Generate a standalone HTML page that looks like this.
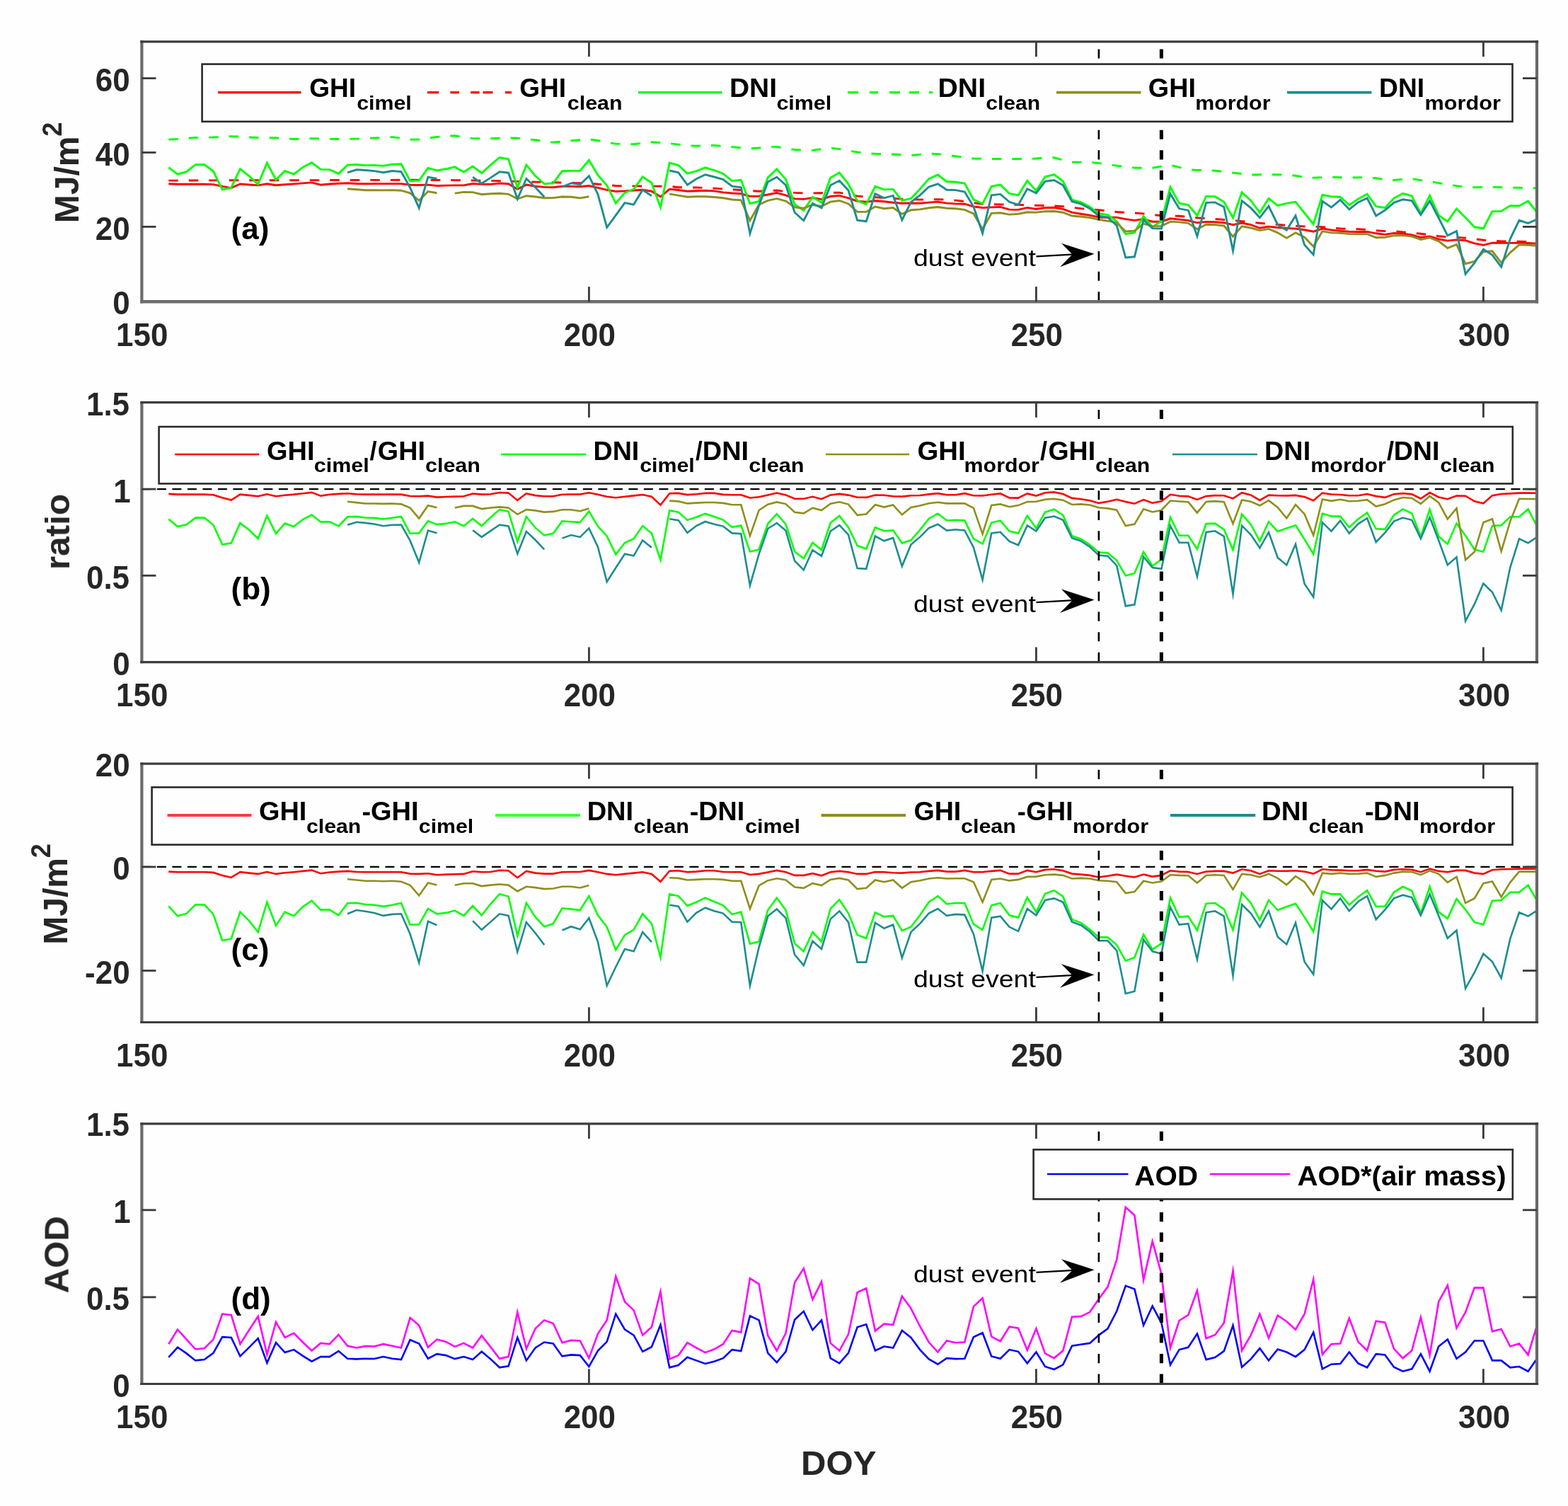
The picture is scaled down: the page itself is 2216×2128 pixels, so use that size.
<!DOCTYPE html>
<html lang="en">
<head>
<meta charset="utf-8">
<title>Irradiance, ratio, difference and AOD versus DOY</title>
<style>
html,body{margin:0;padding:0;background:#fefefe;}
body{width:2216px;height:2128px;overflow:hidden;}
svg{display:block;font-family:'Liberation Sans', Arial, Helvetica, sans-serif;}
</style>
</head>
<body>
<svg xmlns="http://www.w3.org/2000/svg" width="2216" height="2128" viewBox="0 0 2216 2128">
<defs><filter id="soft" color-interpolation-filters="sRGB" x="0" y="0" width="2216" height="2128" filterUnits="userSpaceOnUse"><feGaussianBlur stdDeviation="0.7"/></filter></defs>
<rect x="0" y="0" width="2216" height="2128" fill="#fefefe"/>
<g filter="url(#soft)">
<polyline points="238.3,259.8 251.0,260.3 263.6,260.2 276.2,260.2 288.9,260.2 301.5,260.6 314.2,263.4 326.8,265.6 339.4,260.0 352.1,261.0 364.7,261.9 377.4,259.8 390.0,261.8 402.6,260.7 415.3,259.9 427.9,258.9 440.6,257.9 453.2,261.2 465.8,260.0 478.5,259.3 491.1,258.8 503.8,259.5 516.4,259.7 529.0,259.6 541.7,259.6 554.3,259.6 567.0,259.6 579.6,261.2 592.2,261.5 604.9,261.1 617.5,262.5 630.2,262.1 642.8,261.9 655.4,261.9 668.1,259.5 680.7,260.4 693.4,260.4 706.0,259.0 718.6,259.8 731.3,267.3 743.9,261.0 756.6,263.3 769.2,264.4 781.8,264.7 794.5,263.3 807.1,263.4 819.8,263.7 832.4,262.5 845.0,265.4 857.7,268.4 870.3,270.5 883.0,269.9 895.6,269.0 908.2,268.2 920.9,270.2 933.5,278.0 946.2,267.3 958.8,268.5 971.4,270.2 984.1,269.7 996.7,269.3 1009.4,269.9 1022.0,271.9 1034.6,273.0 1047.3,273.8 1059.9,277.4 1072.6,277.3 1085.2,275.0 1097.8,272.5 1110.5,275.9 1123.1,280.9 1135.8,281.4 1148.4,279.5 1161.0,281.6 1173.7,277.5 1186.3,276.4 1199.0,279.8 1211.6,284.2 1224.2,285.2 1236.9,283.7 1249.5,284.7 1262.2,286.3 1274.8,287.2 1287.4,287.0 1300.1,287.3 1312.7,286.1 1325.4,285.1 1338.0,287.1 1350.6,287.9 1363.3,288.2 1375.9,291.9 1388.6,293.5 1401.2,292.9 1413.8,292.4 1426.5,296.1 1439.1,296.4 1451.8,293.4 1464.4,295.5 1477.0,293.5 1489.7,293.3 1502.3,295.4 1515.0,300.1 1527.6,302.2 1540.2,304.1 1552.9,307.0 1565.5,307.2 1578.2,307.1 1590.8,309.6 1603.4,311.4 1616.1,309.5 1628.7,313.2 1641.4,313.3 1654.0,308.8 1666.6,310.1 1679.3,311.5 1691.9,314.8 1704.6,313.4 1717.2,313.8 1729.8,314.7 1742.5,317.7 1755.1,315.0 1767.8,317.7 1780.4,322.3 1793.0,320.1 1805.7,321.5 1818.3,322.5 1831.0,323.1 1843.6,324.8 1856.2,327.2 1868.9,323.0 1881.5,325.0 1894.2,326.4 1906.8,327.3 1919.4,327.6 1932.1,327.4 1944.7,329.8 1957.4,331.4 1970.0,329.5 1982.6,330.3 1995.3,332.0 2007.9,335.6 2020.6,333.9 2033.2,338.0 2045.8,340.1 2058.5,338.9 2071.1,339.7 2083.8,343.8 2096.4,346.3 2109.0,343.2 2121.7,343.3 2134.3,343.4 2147.0,343.1 2159.6,343.5 2172.2,344.3" fill="none" stroke="#ff0000" stroke-width="2.9" stroke-linejoin="miter" stroke-miterlimit="8" stroke-linecap="butt"/>
<polyline points="238.3,255.1 251.0,255.1 263.6,255.0 276.2,255.0 288.9,254.9 301.5,254.9 314.2,254.9 326.8,254.8 339.4,254.8 352.1,254.8 364.7,254.8 377.4,254.7 390.0,254.7 402.6,254.7 415.3,254.7 427.9,254.6 440.6,254.6 453.2,254.6 465.8,254.5 478.5,254.5 491.1,254.5 503.8,254.5 516.4,254.4 529.0,254.4 541.7,254.4 554.3,254.4 567.0,254.3 579.6,254.3 592.2,254.4 604.9,254.4 617.5,254.5 630.2,254.5 642.8,254.6 655.4,254.8 668.1,255.0 680.7,255.2 693.4,255.4 706.0,255.6 718.6,256.0 731.3,256.4 743.9,256.7 756.6,257.1 769.2,257.5 781.8,257.8 794.5,258.1 807.1,258.4 819.8,258.7 832.4,259.0 845.0,260.2 857.7,261.3 870.3,262.5 883.0,262.8 895.6,262.9 908.2,263.0 920.9,263.1 933.5,263.1 946.2,263.2 958.8,264.7 971.4,265.0 984.1,265.0 996.7,265.5 1009.4,266.1 1022.0,266.9 1034.6,267.7 1047.3,268.6 1059.9,269.5 1072.6,270.2 1085.2,269.6 1097.8,269.0 1110.5,270.7 1123.1,272.4 1135.8,272.9 1148.4,272.9 1161.0,272.7 1173.7,272.3 1186.3,272.1 1199.0,274.6 1211.6,277.1 1224.2,278.1 1236.9,278.7 1249.5,279.5 1262.2,280.3 1274.8,281.1 1287.4,281.6 1300.1,282.1 1312.7,281.9 1325.4,281.6 1338.0,282.3 1350.6,283.1 1363.3,284.7 1375.9,286.7 1388.6,288.2 1401.2,288.6 1413.8,288.9 1426.5,289.2 1439.1,289.4 1451.8,289.9 1464.4,290.3 1477.0,290.6 1489.7,290.9 1502.3,291.6 1515.0,293.2 1527.6,294.6 1540.2,295.6 1552.9,296.6 1565.5,298.0 1578.2,299.5 1590.8,300.4 1603.4,301.0 1616.1,301.9 1628.7,303.4 1641.4,304.7 1654.0,305.0 1666.6,305.3 1679.3,306.5 1691.9,307.7 1704.6,308.6 1717.2,309.5 1729.8,310.5 1742.5,311.5 1755.1,312.6 1767.8,313.9 1780.4,315.2 1793.0,316.3 1805.7,317.4 1818.3,318.4 1831.0,319.3 1843.6,320.0 1856.2,320.3 1868.9,320.6 1881.5,321.8 1894.2,323.0 1906.8,323.5 1919.4,323.8 1932.1,324.5 1944.7,325.7 1957.4,326.6 1970.0,326.7 1982.6,327.9 1995.3,329.1 2007.9,330.3 2020.6,332.0 2033.2,333.7 2045.8,334.8 2058.5,335.4 2071.1,336.2 2083.8,337.7 2096.4,339.2 2109.0,340.0 2121.7,340.9 2134.3,341.2 2147.0,341.2 2159.6,341.6 2172.2,342.4" fill="none" stroke="#ff0000" stroke-width="2.9" stroke-linejoin="miter" stroke-miterlimit="8" stroke-linecap="butt" stroke-dasharray="13.5 15"/>
<polyline points="238.3,236.7 251.0,246.2 263.6,242.6 276.2,232.7 288.9,232.5 301.5,242.0 314.2,267.9 326.8,265.2 339.4,238.7 352.1,248.6 364.7,260.5 377.4,230.1 390.0,254.1 402.6,241.4 415.3,246.2 427.9,236.4 440.6,229.8 453.2,239.4 465.8,239.6 478.5,245.4 491.1,233.1 503.8,232.5 516.4,233.6 529.0,233.5 541.7,234.4 554.3,232.1 567.0,231.7 579.6,255.7 592.2,255.2 604.9,237.4 617.5,241.0 630.2,238.8 642.8,235.9 655.4,243.0 668.1,235.0 680.7,244.5 693.4,233.1 706.0,222.5 718.6,224.8 731.3,265.0 743.9,233.0 756.6,248.6 769.2,259.8 781.8,258.8 794.5,241.8 807.1,241.4 819.8,241.4 832.4,226.3 845.0,247.4 857.7,262.0 870.3,287.1 883.0,272.4 895.6,267.3 908.2,249.7 920.9,258.2 933.5,293.2 946.2,230.1 958.8,233.5 971.4,245.1 984.1,241.8 996.7,236.8 1009.4,240.5 1022.0,245.4 1034.6,255.6 1047.3,254.3 1059.9,287.7 1072.6,284.5 1085.2,250.9 1097.8,238.8 1110.5,253.4 1123.1,288.8 1135.8,297.5 1148.4,278.4 1161.0,286.2 1173.7,251.3 1186.3,243.8 1199.0,260.0 1211.6,283.7 1224.2,288.6 1236.9,263.4 1249.5,267.9 1262.2,267.4 1274.8,283.4 1287.4,280.4 1300.1,267.3 1312.7,252.6 1325.4,247.0 1338.0,256.5 1350.6,257.2 1363.3,259.1 1375.9,282.0 1388.6,287.9 1401.2,263.4 1413.8,261.1 1426.5,273.4 1439.1,275.8 1451.8,255.4 1464.4,269.6 1477.0,249.8 1489.7,246.5 1502.3,256.0 1515.0,282.3 1527.6,285.6 1540.2,292.3 1552.9,301.8 1565.5,303.6 1578.2,312.9 1590.8,330.7 1603.4,328.7 1616.1,305.6 1628.7,320.7 1641.4,312.5 1654.0,264.4 1666.6,287.2 1679.3,289.6 1691.9,304.5 1704.6,277.4 1717.2,277.8 1729.8,285.3 1742.5,307.7 1755.1,271.7 1767.8,283.5 1780.4,300.4 1793.0,280.4 1805.7,290.4 1818.3,287.3 1831.0,285.2 1843.6,301.0 1856.2,316.7 1868.9,275.3 1881.5,277.7 1894.2,278.2 1906.8,289.6 1919.4,281.2 1932.1,274.2 1944.7,291.6 1957.4,293.7 1970.0,280.1 1982.6,273.3 1995.3,276.9 2007.9,301.6 2020.6,276.3 2033.2,304.2 2045.8,313.0 2058.5,294.9 2071.1,307.5 2083.8,320.8 2096.4,322.8 2109.0,298.6 2121.7,298.4 2134.3,290.6 2147.0,290.9 2159.6,284.0 2172.2,300.0" fill="none" stroke="#00ff00" stroke-width="2.9" stroke-linejoin="miter" stroke-miterlimit="8" stroke-linecap="butt"/>
<polyline points="238.3,197.1 251.0,196.5 263.6,195.4 276.2,194.5 288.9,194.2 301.5,194.0 314.2,193.4 326.8,192.6 339.4,193.1 352.1,194.0 364.7,194.5 377.4,194.5 390.0,194.8 402.6,195.8 415.3,196.5 427.9,196.1 440.6,195.6 453.2,196.0 465.8,196.4 478.5,196.5 491.1,196.4 503.8,196.1 516.4,195.6 529.0,195.0 541.7,194.3 554.3,193.6 567.0,195.2 579.6,197.3 592.2,197.0 604.9,195.1 617.5,193.5 630.2,192.3 642.8,191.8 655.4,193.7 668.1,195.6 680.7,195.6 693.4,195.6 706.0,195.3 718.6,194.9 731.3,195.3 743.9,196.5 756.6,197.8 769.2,199.6 781.8,201.3 794.5,200.0 807.1,198.7 819.8,197.7 832.4,196.9 845.0,198.5 857.7,201.3 870.3,203.1 883.0,203.6 895.6,203.7 908.2,202.2 920.9,200.8 933.5,201.6 946.2,202.6 958.8,204.1 971.4,205.7 984.1,206.2 996.7,205.5 1009.4,205.4 1022.0,206.5 1034.6,207.6 1047.3,208.8 1059.9,209.9 1072.6,209.0 1085.2,207.3 1097.8,207.5 1110.5,209.7 1123.1,211.5 1135.8,212.0 1148.4,212.4 1161.0,210.7 1173.7,209.0 1186.3,210.6 1199.0,213.0 1211.6,214.9 1224.2,216.4 1236.9,217.4 1249.5,217.6 1262.2,218.0 1274.8,218.8 1287.4,219.6 1300.1,218.4 1312.7,217.0 1325.4,217.6 1338.0,219.0 1350.6,220.7 1363.3,222.6 1375.9,224.1 1388.6,224.3 1401.2,224.5 1413.8,224.5 1426.5,224.5 1439.1,224.5 1451.8,224.5 1464.4,224.0 1477.0,222.7 1489.7,222.8 1502.3,226.1 1515.0,229.1 1527.6,229.1 1540.2,229.1 1552.9,230.6 1565.5,232.4 1578.2,234.1 1590.8,235.8 1603.4,237.1 1616.1,237.2 1628.7,237.2 1641.4,235.1 1654.0,233.1 1666.6,236.4 1679.3,239.8 1691.9,240.4 1704.6,240.4 1717.2,241.2 1729.8,242.6 1742.5,244.1 1755.1,245.6 1767.8,247.0 1780.4,246.8 1793.0,246.7 1805.7,246.8 1818.3,246.9 1831.0,248.2 1843.6,250.2 1856.2,251.2 1868.9,250.6 1881.5,250.2 1894.2,250.7 1906.8,251.2 1919.4,250.8 1932.1,250.5 1944.7,251.8 1957.4,253.8 1970.0,254.5 1982.6,253.3 1995.3,252.7 2007.9,254.6 2020.6,256.4 2033.2,258.6 2045.8,260.8 2058.5,262.6 2071.1,264.3 2083.8,264.8 2096.4,264.5 2109.0,264.4 2121.7,264.7 2134.3,265.0 2147.0,265.3 2159.6,265.5 2172.2,265.9" fill="none" stroke="#00ff00" stroke-width="2.9" stroke-linejoin="miter" stroke-miterlimit="8" stroke-linecap="butt" stroke-dasharray="13.5 15"/>
<polyline points="491.1,266.8 503.8,267.8 516.4,268.7 529.0,268.7 541.7,268.9 554.3,268.6 567.0,269.2 579.6,272.8 592.2,283.3 604.9,270.6 617.5,272.8" fill="none" stroke="#8f8f1c" stroke-width="2.9" stroke-linejoin="miter" stroke-miterlimit="8" stroke-linecap="butt"/>
<polyline points="642.8,273.1 655.4,271.4 668.1,271.6 680.7,274.7 693.4,273.7 706.0,273.2 718.6,274.3 731.3,281.0 743.9,276.7 756.6,278.0 769.2,279.8 781.8,279.6 794.5,278.0 807.1,278.3 819.8,279.9 832.4,277.7" fill="none" stroke="#8f8f1c" stroke-width="2.9" stroke-linejoin="miter" stroke-miterlimit="8" stroke-linecap="butt"/>
<polyline points="946.2,274.1 958.8,276.1 971.4,278.2 984.1,277.8 996.7,277.8 1009.4,278.5 1022.0,279.7 1034.6,282.0 1047.3,282.8 1059.9,311.7 1072.6,289.2 1085.2,283.4 1097.8,280.7 1110.5,284.0 1123.1,292.8 1135.8,294.2 1148.4,289.5 1161.0,291.4 1173.7,285.1 1186.3,283.5 1199.0,287.9 1211.6,299.4 1224.2,299.4 1236.9,292.0 1249.5,294.7 1262.2,293.6 1274.8,302.4 1287.4,296.8 1300.1,295.9 1312.7,293.7 1325.4,292.5 1338.0,294.2 1350.6,294.8 1363.3,296.4 1375.9,301.9 1388.6,323.8 1401.2,301.4 1413.8,300.8 1426.5,303.1 1439.1,302.2 1451.8,299.8 1464.4,300.1 1477.0,298.7 1489.7,298.5 1502.3,300.2 1515.0,305.0 1527.6,306.0 1540.2,307.5 1552.9,310.4 1565.5,312.2 1578.2,314.6 1590.8,327.0 1603.4,326.2 1616.1,316.1 1628.7,319.6 1641.4,319.4 1654.0,313.1 1666.6,313.9 1679.3,315.3 1691.9,323.8 1704.6,317.2 1717.2,317.6 1729.8,319.0 1742.5,334.3 1755.1,319.8 1767.8,322.0 1780.4,325.6 1793.0,323.4 1805.7,328.8 1818.3,336.4 1831.0,328.8 1843.6,335.2 1856.2,348.3 1868.9,326.8 1881.5,328.9 1894.2,329.2 1906.8,330.6 1919.4,330.7 1932.1,330.7 1944.7,335.7 1957.4,335.2 1970.0,332.9 1982.6,332.6 1995.3,334.1 2007.9,338.4 2020.6,335.8 2033.2,340.8 2045.8,350.5 2058.5,345.4 2071.1,372.7 2083.8,369.5 2096.4,355.8 2109.0,354.8 2121.7,371.3 2134.3,356.8 2147.0,345.9 2159.6,346.3 2172.2,347.2" fill="none" stroke="#8f8f1c" stroke-width="2.9" stroke-linejoin="miter" stroke-miterlimit="8" stroke-linecap="butt"/>
<polyline points="491.1,243.9 503.8,239.8 516.4,240.5 529.0,241.6 541.7,243.7 554.3,241.5 567.0,242.6 579.6,265.2 592.2,293.9 604.9,250.2 617.5,252.4" fill="none" stroke="#1c8d90" stroke-width="2.9" stroke-linejoin="miter" stroke-miterlimit="8" stroke-linecap="butt"/>
<polyline points="668.1,250.1 680.7,259.2 693.4,251.1 706.0,242.7 718.6,244.2 731.3,281.2 743.9,252.5 756.6,264.7 769.2,278.3" fill="none" stroke="#1c8d90" stroke-width="2.9" stroke-linejoin="miter" stroke-miterlimit="8" stroke-linecap="butt"/>
<polyline points="794.5,264.1 807.1,258.9 819.8,260.8 832.4,248.6 845.0,274.5 857.7,321.3 870.3,304.2 883.0,286.6 895.6,289.1 908.2,268.2 920.9,276.7" fill="none" stroke="#1c8d90" stroke-width="2.9" stroke-linejoin="miter" stroke-miterlimit="8" stroke-linecap="butt"/>
<polyline points="946.2,241.0 958.8,243.9 971.4,261.3 984.1,252.7 996.7,246.8 1009.4,250.0 1022.0,253.5 1034.6,263.2 1047.3,264.8 1059.9,330.0 1072.6,290.2 1085.2,257.1 1097.8,250.2 1110.5,261.5 1123.1,300.2 1135.8,311.7 1148.4,287.4 1161.0,293.8 1173.7,261.7 1186.3,255.2 1199.0,269.0 1211.6,311.2 1224.2,312.8 1236.9,273.8 1249.5,279.8 1262.2,276.4 1274.8,310.9 1287.4,285.6 1300.1,275.8 1312.7,264.0 1325.4,259.8 1338.0,268.3 1350.6,268.6 1363.3,271.0 1375.9,292.0 1388.6,329.7 1401.2,275.8 1413.8,274.4 1426.5,285.3 1439.1,289.5 1451.8,266.8 1464.4,272.9 1477.0,256.4 1489.7,254.6 1502.3,261.7 1515.0,284.7 1527.6,288.0 1540.2,294.6 1552.9,305.1 1565.5,307.1 1578.2,318.6 1590.8,364.0 1603.4,362.8 1616.1,310.8 1628.7,322.6 1641.4,322.9 1654.0,273.9 1666.6,294.8 1679.3,297.2 1691.9,333.9 1704.6,286.4 1717.2,285.9 1729.8,292.5 1742.5,354.2 1755.1,283.6 1767.8,293.9 1780.4,307.6 1793.0,291.3 1805.7,317.5 1818.3,325.2 1831.0,304.7 1843.6,346.1 1856.2,359.9 1868.9,284.3 1881.5,292.9 1894.2,282.5 1906.8,295.8 1919.4,285.9 1932.1,279.9 1944.7,304.9 1957.4,297.0 1970.0,286.3 1982.6,281.8 1995.3,283.6 2007.9,303.5 2020.6,283.9 2033.2,308.0 2045.8,332.9 2058.5,326.7 2071.1,387.2 2083.8,371.6 2096.4,352.3 2109.0,360.3 2121.7,377.2 2134.3,337.6 2147.0,311.3 2159.6,315.4 2172.2,310.0" fill="none" stroke="#1c8d90" stroke-width="2.9" stroke-linejoin="miter" stroke-miterlimit="8" stroke-linecap="butt"/>
<line x1="1552.88" y1="426.30" x2="1552.88" y2="58.90" stroke="#000" stroke-width="2.6" stroke-dasharray="13.2 15.37" stroke-dashoffset="27.7"/>
<line x1="1641.36" y1="426.30" x2="1641.36" y2="58.90" stroke="#000" stroke-width="5.0" stroke-dasharray="13.2 15.37" stroke-dashoffset="27.7"/>
<line x1="200.40" y1="57.30" x2="200.40" y2="428.50" stroke="#6a6a6a" stroke-width="4.2" stroke-linecap="butt"/>
<line x1="2172.00" y1="57.30" x2="2172.00" y2="428.50" stroke="#686868" stroke-width="4.2" stroke-linecap="butt"/>
<line x1="198.30" y1="58.90" x2="2174.10" y2="58.90" stroke="#3c3c3c" stroke-width="3.2" stroke-linecap="butt"/>
<line x1="198.30" y1="426.30" x2="2174.10" y2="426.30" stroke="#6c6c6c" stroke-width="4.4" stroke-linecap="butt"/>
<line x1="832.40" y1="426.30" x2="832.40" y2="405.10" stroke="#3a3a3a" stroke-width="2.8" stroke-linecap="butt"/>
<line x1="832.40" y1="58.90" x2="832.40" y2="80.10" stroke="#3a3a3a" stroke-width="2.8" stroke-linecap="butt"/>
<line x1="1464.40" y1="426.30" x2="1464.40" y2="405.10" stroke="#3a3a3a" stroke-width="2.8" stroke-linecap="butt"/>
<line x1="1464.40" y1="58.90" x2="1464.40" y2="80.10" stroke="#3a3a3a" stroke-width="2.8" stroke-linecap="butt"/>
<line x1="2096.40" y1="426.30" x2="2096.40" y2="405.10" stroke="#3a3a3a" stroke-width="2.8" stroke-linecap="butt"/>
<line x1="2096.40" y1="58.90" x2="2096.40" y2="80.10" stroke="#3a3a3a" stroke-width="2.8" stroke-linecap="butt"/>
<line x1="200.40" y1="320.40" x2="220.40" y2="320.40" stroke="#3a3a3a" stroke-width="2.8" stroke-linecap="butt"/>
<line x1="2172.00" y1="320.40" x2="2152.00" y2="320.40" stroke="#3a3a3a" stroke-width="2.8" stroke-linecap="butt"/>
<line x1="200.40" y1="215.50" x2="220.40" y2="215.50" stroke="#3a3a3a" stroke-width="2.8" stroke-linecap="butt"/>
<line x1="2172.00" y1="215.50" x2="2152.00" y2="215.50" stroke="#3a3a3a" stroke-width="2.8" stroke-linecap="butt"/>
<line x1="200.40" y1="110.60" x2="220.40" y2="110.60" stroke="#3a3a3a" stroke-width="2.8" stroke-linecap="butt"/>
<line x1="2172.00" y1="110.60" x2="2152.00" y2="110.60" stroke="#3a3a3a" stroke-width="2.8" stroke-linecap="butt"/>
<rect x="285.60" y="90.60" width="1851.90" height="81.20" fill="#fefefe" stroke="#2a2a2a" stroke-width="2.6"/>
<line x1="308.00" y1="130.60" x2="425.50" y2="130.60" stroke="#ff0000" stroke-width="3.4" stroke-linecap="butt"/>
<line x1="604.00" y1="130.60" x2="723.00" y2="130.60" stroke="#ff0000" stroke-width="3.4" stroke-linecap="butt" stroke-dasharray="16.2 16.2 12.5 16.2 12.5 5 13.8 17.5 9.3 0" stroke-dashoffset="0"/>
<line x1="902.00" y1="130.60" x2="1020.50" y2="130.60" stroke="#00ff00" stroke-width="3.4" stroke-linecap="butt"/>
<line x1="1198.00" y1="130.60" x2="1318.00" y2="130.60" stroke="#00ff00" stroke-width="3.4" stroke-linecap="butt" stroke-dasharray="15 16 12 16 15 13 14 14 5 0" stroke-dashoffset="0"/>
<line x1="1493.00" y1="130.60" x2="1612.50" y2="130.60" stroke="#8f8f1c" stroke-width="3.6" stroke-linecap="butt"/>
<line x1="1819.00" y1="130.60" x2="1938.50" y2="130.60" stroke="#1c8d90" stroke-width="3.6" stroke-linecap="butt"/>
<text x="437.28" y="137.00" font-size="36.3" font-weight="bold" fill="#000" textLength="65.79" lengthAdjust="spacingAndGlyphs">GHI</text>
<text x="504.22" y="154.60" font-size="27.0" font-weight="bold" fill="#000" textLength="77.54" lengthAdjust="spacingAndGlyphs">cimel</text>
<text x="734.28" y="137.00" font-size="36.3" font-weight="bold" fill="#000" textLength="65.79" lengthAdjust="spacingAndGlyphs">GHI</text>
<text x="801.82" y="154.60" font-size="27.0" font-weight="bold" fill="#000" textLength="77.67" lengthAdjust="spacingAndGlyphs">clean</text>
<text x="1030.99" y="137.00" font-size="36.3" font-weight="bold" fill="#000" textLength="67.02" lengthAdjust="spacingAndGlyphs">DNI</text>
<text x="1097.41" y="154.60" font-size="27.0" font-weight="bold" fill="#000" textLength="77.75" lengthAdjust="spacingAndGlyphs">cimel</text>
<text x="1325.58" y="137.00" font-size="36.3" font-weight="bold" fill="#000" textLength="67.46" lengthAdjust="spacingAndGlyphs">DNI</text>
<text x="1393.23" y="154.60" font-size="27.0" font-weight="bold" fill="#000" textLength="76.84" lengthAdjust="spacingAndGlyphs">clean</text>
<text x="1622.85" y="137.00" font-size="36.3" font-weight="bold" fill="#000" textLength="67.07" lengthAdjust="spacingAndGlyphs">GHI</text>
<text x="1689.20" y="154.60" font-size="27.0" font-weight="bold" fill="#000" textLength="106.26" lengthAdjust="spacingAndGlyphs">mordor</text>
<text x="1949.11" y="137.00" font-size="36.3" font-weight="bold" fill="#000" textLength="63.98" lengthAdjust="spacingAndGlyphs">DNI</text>
<text x="2013.58" y="154.60" font-size="27.0" font-weight="bold" fill="#000" textLength="107.28" lengthAdjust="spacingAndGlyphs">mordor</text>
<polyline points="238.3,697.9 251.0,698.6 263.6,698.6 276.2,698.6 288.9,698.6 301.5,699.3 314.2,703.3 326.8,706.5 339.4,698.6 352.1,699.9 364.7,701.3 377.4,698.3 390.0,701.3 402.6,699.7 415.3,698.6 427.9,697.2 440.6,695.9 453.2,700.6 465.8,698.8 478.5,697.9 491.1,697.2 503.8,698.3 516.4,698.6 529.0,698.6 541.7,698.6 554.3,698.6 567.0,698.6 579.6,701.0 592.2,701.3 604.9,700.6 617.5,702.6 630.2,702.0 642.8,701.6 655.4,701.3 668.1,697.5 680.7,698.6 693.4,698.3 706.0,696.0 718.6,696.6 731.3,706.9 743.9,697.3 756.6,700.1 769.2,701.2 781.8,701.2 794.5,698.7 807.1,698.5 819.8,698.5 832.4,696.3 845.0,698.8 857.7,701.7 870.3,703.2 883.0,701.8 895.6,700.4 908.2,699.0 920.9,701.8 933.5,713.6 946.2,697.3 958.8,696.9 971.4,699.1 984.1,698.3 996.7,696.9 1009.4,696.9 1022.0,698.9 1034.6,699.2 1047.3,699.2 1059.9,703.5 1072.6,702.3 1085.2,699.6 1097.8,696.6 1110.5,699.4 1123.1,704.8 1135.8,704.8 1148.4,701.8 1161.0,705.2 1173.7,699.4 1186.3,697.9 1199.0,699.6 1211.6,702.8 1224.2,702.9 1236.9,699.5 1249.5,699.8 1262.2,701.2 1274.8,701.6 1287.4,700.3 1300.1,700.0 1312.7,698.4 1325.4,697.1 1338.0,699.2 1350.6,699.3 1363.3,697.2 1375.9,700.3 1388.6,700.4 1401.2,698.7 1413.8,697.4 1426.5,703.5 1439.1,703.6 1451.8,697.4 1464.4,700.6 1477.0,696.3 1489.7,695.4 1502.3,698.0 1515.0,703.9 1527.6,705.3 1540.2,707.2 1552.9,710.9 1565.5,708.8 1578.2,705.8 1590.8,709.1 1603.4,711.6 1616.1,706.1 1628.7,710.7 1641.4,708.4 1654.0,698.8 1666.6,700.8 1679.3,701.4 1691.9,705.9 1704.6,701.0 1717.2,700.1 1729.8,700.2 1742.5,704.4 1755.1,696.2 1767.8,699.4 1780.4,706.9 1793.0,699.6 1805.7,700.3 1818.3,700.4 1831.0,699.9 1843.6,702.1 1856.2,707.2 1868.9,696.6 1881.5,698.5 1894.2,699.0 1906.8,700.2 1919.4,700.2 1932.1,698.0 1944.7,701.1 1957.4,702.9 1970.0,698.2 1982.6,697.1 1995.3,698.3 2007.9,704.5 2020.6,696.1 2033.2,702.5 2045.8,705.2 2058.5,700.6 2071.1,700.7 2083.8,708.3 2096.4,711.3 2109.0,700.1 2121.7,698.0 2134.3,697.4 2147.0,696.6 2159.6,696.6 2172.2,696.7" fill="none" stroke="#ff0000" stroke-width="2.6" stroke-linejoin="miter" stroke-miterlimit="8" stroke-linecap="butt"/>
<polyline points="238.3,733.5 251.0,744.1 263.6,741.3 276.2,731.6 288.9,731.6 301.5,741.8 314.2,769.6 326.8,767.4 339.4,739.1 352.1,748.8 364.7,761.0 377.4,728.8 390.0,754.0 402.6,739.6 415.3,744.1 427.9,734.1 440.6,727.5 453.2,737.4 465.8,737.2 478.5,743.3 491.1,730.3 503.8,729.9 516.4,731.5 529.0,731.9 541.7,733.5 554.3,731.7 567.0,729.9 579.6,753.7 592.2,753.4 604.9,736.0 617.5,741.1 630.2,739.9 642.8,737.3 655.4,743.2 668.1,733.0 680.7,743.1 693.4,731.0 706.0,720.1 718.6,722.8 731.3,765.2 743.9,730.1 756.6,745.7 769.2,756.4 781.8,753.8 794.5,736.4 807.1,737.2 819.8,738.0 832.4,722.6 845.0,743.8 857.7,757.4 870.3,783.5 883.0,767.0 895.6,761.2 908.2,743.1 920.9,753.6 933.5,791.2 946.2,721.3 958.8,723.6 971.4,734.9 984.1,730.8 996.7,725.9 1009.4,730.1 1022.0,734.6 1034.6,744.9 1047.3,742.5 1059.9,779.4 1072.6,776.4 1085.2,740.0 1097.8,726.2 1110.5,740.6 1123.1,779.5 1135.8,789.0 1148.4,766.8 1161.0,777.0 1173.7,738.8 1186.3,728.9 1199.0,745.2 1211.6,771.0 1224.2,775.5 1236.9,745.2 1249.5,750.3 1262.2,749.3 1274.8,767.5 1287.4,763.3 1300.1,748.8 1312.7,732.9 1325.4,725.7 1338.0,735.5 1350.6,734.7 1363.3,735.2 1375.9,761.4 1388.6,768.4 1401.2,738.5 1413.8,735.6 1426.5,750.6 1439.1,753.5 1451.8,728.7 1464.4,746.4 1477.0,723.7 1489.7,719.7 1502.3,727.8 1515.0,757.3 1527.6,761.5 1540.2,769.7 1552.9,780.5 1565.5,781.3 1578.2,791.8 1590.8,813.5 1603.4,810.0 1616.1,779.9 1628.7,799.6 1641.4,790.5 1654.0,730.9 1666.6,756.8 1679.3,756.7 1691.9,775.8 1704.6,740.0 1717.2,739.6 1729.8,748.2 1742.5,776.9 1755.1,726.6 1767.8,741.2 1780.4,764.5 1793.0,737.2 1805.7,750.9 1818.3,746.4 1831.0,742.2 1843.6,762.0 1856.2,783.0 1868.9,725.6 1881.5,729.5 1894.2,729.6 1906.8,745.1 1919.4,733.6 1932.1,724.3 1944.7,747.3 1957.4,747.9 1970.0,727.8 1982.6,719.4 1995.3,725.4 2007.9,758.4 2020.6,719.9 2033.2,757.9 2045.8,768.7 2058.5,739.6 2071.1,756.7 2083.8,776.4 2096.4,779.8 2109.0,743.0 2121.7,742.4 2134.3,730.2 2147.0,730.2 2159.6,719.4 2172.2,743.5" fill="none" stroke="#00ff00" stroke-width="2.6" stroke-linejoin="miter" stroke-miterlimit="8" stroke-linecap="butt"/>
<polyline points="491.1,708.8 503.8,710.1 516.4,711.5 529.0,711.5 541.7,711.9 554.3,711.5 567.0,712.4 579.6,717.6 592.2,732.5 604.9,714.2 617.5,717.3" fill="none" stroke="#8f8f1c" stroke-width="2.6" stroke-linejoin="miter" stroke-miterlimit="8" stroke-linecap="butt"/>
<polyline points="642.8,717.6 655.4,714.9 668.1,714.9 680.7,719.1 693.4,717.5 706.0,716.4 718.6,717.5 731.3,726.8 743.9,720.0 756.6,721.4 769.2,723.6 781.8,722.9 794.5,720.2 807.1,720.3 819.8,722.2 832.4,718.6" fill="none" stroke="#8f8f1c" stroke-width="2.6" stroke-linejoin="miter" stroke-miterlimit="8" stroke-linecap="butt"/>
<polyline points="946.2,707.6 958.8,708.4 971.4,711.4 984.1,710.6 996.7,710.0 1009.4,710.0 1022.0,710.9 1034.6,713.2 1047.3,713.3 1059.9,757.3 1072.6,721.0 1085.2,712.7 1097.8,709.4 1110.5,712.1 1123.1,723.7 1135.8,725.3 1148.4,717.7 1161.0,721.1 1173.7,711.6 1186.3,709.3 1199.0,712.6 1211.6,727.9 1224.2,726.5 1236.9,713.3 1249.5,716.6 1262.2,713.5 1274.8,727.3 1287.4,716.9 1300.1,714.6 1312.7,711.3 1325.4,709.7 1338.0,711.4 1350.6,711.2 1363.3,711.4 1375.9,717.9 1388.6,754.6 1401.2,714.0 1413.8,712.4 1426.5,716.2 1439.1,714.1 1451.8,709.1 1464.4,708.8 1477.0,705.7 1489.7,704.9 1502.3,706.7 1515.0,713.0 1527.6,712.4 1540.2,713.5 1552.9,717.2 1565.5,718.4 1578.2,720.6 1590.8,743.1 1603.4,740.6 1616.1,719.3 1628.7,723.5 1641.4,720.9 1654.0,707.5 1666.6,708.5 1679.3,709.3 1691.9,724.6 1704.6,709.0 1717.2,708.1 1729.8,709.3 1742.5,740.0 1755.1,706.5 1767.8,708.8 1780.4,714.3 1793.0,707.1 1805.7,716.9 1818.3,732.3 1831.0,713.0 1843.6,726.4 1856.2,756.3 1868.9,705.5 1881.5,707.9 1894.2,705.8 1906.8,708.2 1919.4,707.8 1932.1,706.1 1944.7,715.6 1957.4,712.3 1970.0,706.4 1982.6,703.0 1995.3,703.9 2007.9,711.9 2020.6,701.0 2033.2,710.1 2045.8,733.4 2058.5,718.2 2071.1,791.3 2083.8,779.8 2096.4,738.2 2109.0,733.3 2121.7,779.1 2134.3,736.6 2147.0,704.9 2159.6,705.0 2172.2,705.1" fill="none" stroke="#8f8f1c" stroke-width="2.6" stroke-linejoin="miter" stroke-miterlimit="8" stroke-linecap="butt"/>
<polyline points="491.1,741.8 503.8,737.7 516.4,738.9 529.0,740.5 541.7,743.3 554.3,741.7 567.0,741.5 579.6,763.9 592.2,794.8 604.9,749.6 617.5,753.2" fill="none" stroke="#1c8d90" stroke-width="2.6" stroke-linejoin="miter" stroke-miterlimit="8" stroke-linecap="butt"/>
<polyline points="668.1,749.2 680.7,758.8 693.4,750.2 706.0,741.5 718.6,743.5 731.3,782.4 743.9,750.9 756.6,763.0 769.2,776.4" fill="none" stroke="#1c8d90" stroke-width="2.6" stroke-linejoin="miter" stroke-miterlimit="8" stroke-linecap="butt"/>
<polyline points="794.5,760.6 807.1,756.1 819.8,758.9 832.4,746.4 845.0,772.9 857.7,822.1 870.3,802.3 883.0,782.7 895.6,785.3 908.2,763.4 920.9,773.8" fill="none" stroke="#1c8d90" stroke-width="2.6" stroke-linejoin="miter" stroke-miterlimit="8" stroke-linecap="butt"/>
<polyline points="946.2,733.3 958.8,735.1 971.4,752.9 984.1,743.0 996.7,737.0 1009.4,740.7 1022.0,743.6 1034.6,753.4 1047.3,754.3 1059.9,827.3 1072.6,782.8 1085.2,747.0 1097.8,739.0 1110.5,749.8 1123.1,792.5 1135.8,805.3 1148.4,777.2 1161.0,785.7 1173.7,750.6 1186.3,741.9 1199.0,755.6 1211.6,803.0 1224.2,803.8 1236.9,757.5 1249.5,764.3 1262.2,759.9 1274.8,800.1 1287.4,769.5 1300.1,758.9 1312.7,746.2 1325.4,740.8 1338.0,749.6 1350.6,748.3 1363.3,749.5 1375.9,773.6 1388.6,819.2 1401.2,753.5 1413.8,751.8 1426.5,765.0 1439.1,770.2 1451.8,742.5 1464.4,750.5 1477.0,731.7 1489.7,729.5 1502.3,734.8 1515.0,760.3 1527.6,764.4 1540.2,772.7 1552.9,784.6 1565.5,785.7 1578.2,799.1 1590.8,856.4 1603.4,854.4 1616.1,786.7 1628.7,802.1 1641.4,803.9 1654.0,743.0 1666.6,766.6 1679.3,766.7 1691.9,814.7 1704.6,752.0 1717.2,750.3 1729.8,757.8 1742.5,839.6 1755.1,742.7 1767.8,755.5 1780.4,774.3 1793.0,752.1 1805.7,787.9 1818.3,798.4 1831.0,769.0 1843.6,824.9 1856.2,843.7 1868.9,738.2 1881.5,750.7 1894.2,735.6 1906.8,753.7 1919.4,740.3 1932.1,732.2 1944.7,766.0 1957.4,752.6 1970.0,736.6 1982.6,731.6 1995.3,734.8 2007.9,761.1 2020.6,730.9 2033.2,763.5 2045.8,798.3 2058.5,787.3 2071.1,877.7 2083.8,853.7 2096.4,824.5 2109.0,836.7 2121.7,862.3 2134.3,801.8 2147.0,761.4 2159.6,767.3 2172.2,758.8" fill="none" stroke="#1c8d90" stroke-width="2.6" stroke-linejoin="miter" stroke-miterlimit="8" stroke-linecap="butt"/>
<line x1="200.40" y1="691.10" x2="2172.00" y2="691.10" stroke="#000" stroke-width="2.2" stroke-linecap="butt" stroke-dasharray="13 8.5" stroke-dashoffset="0"/>
<line x1="1552.88" y1="935.70" x2="1552.88" y2="568.70" stroke="#000" stroke-width="2.6" stroke-dasharray="13.2 15.37" stroke-dashoffset="27.8"/>
<line x1="1641.36" y1="935.70" x2="1641.36" y2="568.70" stroke="#000" stroke-width="5.0" stroke-dasharray="13.2 15.37" stroke-dashoffset="27.8"/>
<line x1="200.40" y1="567.10" x2="200.40" y2="937.30" stroke="#6a6a6a" stroke-width="4.2" stroke-linecap="butt"/>
<line x1="2172.00" y1="567.10" x2="2172.00" y2="937.30" stroke="#686868" stroke-width="4.2" stroke-linecap="butt"/>
<line x1="198.30" y1="568.70" x2="2174.10" y2="568.70" stroke="#3c3c3c" stroke-width="3.2" stroke-linecap="butt"/>
<line x1="198.30" y1="935.70" x2="2174.10" y2="935.70" stroke="#3c3c3c" stroke-width="3.2" stroke-linecap="butt"/>
<line x1="832.40" y1="935.70" x2="832.40" y2="914.50" stroke="#3a3a3a" stroke-width="2.8" stroke-linecap="butt"/>
<line x1="832.40" y1="568.70" x2="832.40" y2="589.90" stroke="#3a3a3a" stroke-width="2.8" stroke-linecap="butt"/>
<line x1="1464.40" y1="935.70" x2="1464.40" y2="914.50" stroke="#3a3a3a" stroke-width="2.8" stroke-linecap="butt"/>
<line x1="1464.40" y1="568.70" x2="1464.40" y2="589.90" stroke="#3a3a3a" stroke-width="2.8" stroke-linecap="butt"/>
<line x1="2096.40" y1="935.70" x2="2096.40" y2="914.50" stroke="#3a3a3a" stroke-width="2.8" stroke-linecap="butt"/>
<line x1="2096.40" y1="568.70" x2="2096.40" y2="589.90" stroke="#3a3a3a" stroke-width="2.8" stroke-linecap="butt"/>
<line x1="200.40" y1="813.30" x2="220.40" y2="813.30" stroke="#3a3a3a" stroke-width="2.8" stroke-linecap="butt"/>
<line x1="2172.00" y1="813.30" x2="2152.00" y2="813.30" stroke="#3a3a3a" stroke-width="2.8" stroke-linecap="butt"/>
<line x1="200.40" y1="691.10" x2="220.40" y2="691.10" stroke="#3a3a3a" stroke-width="2.8" stroke-linecap="butt"/>
<line x1="2172.00" y1="691.10" x2="2152.00" y2="691.10" stroke="#3a3a3a" stroke-width="2.8" stroke-linecap="butt"/>
<rect x="224.60" y="603.00" width="1913.20" height="80.40" fill="#fefefe" stroke="#2a2a2a" stroke-width="2.6"/>
<line x1="247.00" y1="642.00" x2="366.20" y2="642.00" stroke="#ff0000" stroke-width="2.4" stroke-linecap="butt"/>
<line x1="708.00" y1="642.00" x2="828.20" y2="642.00" stroke="#00ff00" stroke-width="2.4" stroke-linecap="butt"/>
<line x1="1167.00" y1="642.00" x2="1285.00" y2="642.00" stroke="#8f8f1c" stroke-width="2.6" stroke-linecap="butt"/>
<line x1="1657.00" y1="642.00" x2="1777.00" y2="642.00" stroke="#1c8d90" stroke-width="2.6" stroke-linecap="butt"/>
<text x="377.04" y="649.60" font-size="36.3" font-weight="bold" fill="#000" textLength="67.49" lengthAdjust="spacingAndGlyphs">GHI</text>
<text x="443.81" y="667.20" font-size="27.0" font-weight="bold" fill="#000" textLength="77.96" lengthAdjust="spacingAndGlyphs">cimel</text>
<text x="522.44" y="649.60" font-size="36.3" font-weight="bold" fill="#000" textLength="10.12" lengthAdjust="spacingAndGlyphs">/</text>
<text x="533.85" y="649.60" font-size="36.3" font-weight="bold" fill="#000" textLength="67.07" lengthAdjust="spacingAndGlyphs">GHI</text>
<text x="601.01" y="667.20" font-size="27.0" font-weight="bold" fill="#000" textLength="77.88" lengthAdjust="spacingAndGlyphs">clean</text>
<text x="838.48" y="649.60" font-size="36.3" font-weight="bold" fill="#000" textLength="64.85" lengthAdjust="spacingAndGlyphs">DNI</text>
<text x="904.22" y="667.20" font-size="27.0" font-weight="bold" fill="#000" textLength="77.54" lengthAdjust="spacingAndGlyphs">cimel</text>
<text x="983.05" y="649.60" font-size="36.3" font-weight="bold" fill="#000" textLength="9.69" lengthAdjust="spacingAndGlyphs">/</text>
<text x="992.86" y="649.60" font-size="36.3" font-weight="bold" fill="#000" textLength="65.29" lengthAdjust="spacingAndGlyphs">DNI</text>
<text x="1058.21" y="667.20" font-size="27.0" font-weight="bold" fill="#000" textLength="78.30" lengthAdjust="spacingAndGlyphs">clean</text>
<text x="1296.43" y="649.60" font-size="36.3" font-weight="bold" fill="#000" textLength="68.13" lengthAdjust="spacingAndGlyphs">GHI</text>
<text x="1362.60" y="667.20" font-size="27.0" font-weight="bold" fill="#000" textLength="106.26" lengthAdjust="spacingAndGlyphs">mordor</text>
<text x="1470.04" y="649.60" font-size="36.3" font-weight="bold" fill="#000" textLength="10.12" lengthAdjust="spacingAndGlyphs">/</text>
<text x="1481.46" y="649.60" font-size="36.3" font-weight="bold" fill="#000" textLength="66.64" lengthAdjust="spacingAndGlyphs">GHI</text>
<text x="1548.02" y="667.20" font-size="27.0" font-weight="bold" fill="#000" textLength="77.26" lengthAdjust="spacingAndGlyphs">clean</text>
<text x="1787.07" y="649.60" font-size="36.3" font-weight="bold" fill="#000" textLength="65.07" lengthAdjust="spacingAndGlyphs">DNI</text>
<text x="1852.19" y="667.20" font-size="27.0" font-weight="bold" fill="#000" textLength="106.67" lengthAdjust="spacingAndGlyphs">mordor</text>
<text x="1960.04" y="649.60" font-size="36.3" font-weight="bold" fill="#000" textLength="10.12" lengthAdjust="spacingAndGlyphs">/</text>
<text x="1969.68" y="649.60" font-size="36.3" font-weight="bold" fill="#000" textLength="64.85" lengthAdjust="spacingAndGlyphs">DNI</text>
<text x="2035.22" y="667.20" font-size="27.0" font-weight="bold" fill="#000" textLength="77.26" lengthAdjust="spacingAndGlyphs">clean</text>
<polyline points="238.3,1231.6 251.0,1232.2 263.6,1232.2 276.2,1232.2 288.9,1232.2 301.5,1232.9 314.2,1236.9 326.8,1239.9 339.4,1232.2 352.1,1233.6 364.7,1234.9 377.4,1232.0 390.0,1234.9 402.6,1233.3 415.3,1232.2 427.9,1230.9 440.6,1229.6 453.2,1234.2 465.8,1232.5 478.5,1231.6 491.1,1230.9 503.8,1232.0 516.4,1232.2 529.0,1232.2 541.7,1232.2 554.3,1232.2 567.0,1232.2 579.6,1234.6 592.2,1234.9 604.9,1234.2 617.5,1236.2 630.2,1235.6 642.8,1235.2 655.4,1234.9 668.1,1231.2 680.7,1232.2 693.4,1232.0 706.0,1229.7 718.6,1230.3 731.3,1240.2 743.9,1230.9 756.6,1233.6 769.2,1234.6 781.8,1234.6 794.5,1232.2 807.1,1232.0 819.8,1232.0 832.4,1229.9 845.0,1232.2 857.7,1234.9 870.3,1236.2 883.0,1234.9 895.6,1233.6 908.2,1232.2 920.9,1234.9 933.5,1245.8 946.2,1230.7 958.8,1230.3 971.4,1232.2 984.1,1231.6 996.7,1230.3 1009.4,1230.3 1022.0,1232.0 1034.6,1232.2 1047.3,1232.2 1059.9,1236.0 1072.6,1234.9 1085.2,1232.5 1097.8,1229.9 1110.5,1232.2 1123.1,1236.9 1135.8,1236.9 1148.4,1234.2 1161.0,1237.3 1173.7,1232.2 1186.3,1230.9 1199.0,1232.2 1211.6,1234.9 1224.2,1234.9 1236.9,1232.0 1249.5,1232.2 1262.2,1233.3 1274.8,1233.6 1287.4,1232.5 1300.1,1232.2 1312.7,1230.9 1325.4,1229.9 1338.0,1231.6 1350.6,1231.6 1363.3,1229.9 1375.9,1232.2 1388.6,1232.2 1401.2,1230.9 1413.8,1229.9 1426.5,1234.6 1439.1,1234.6 1451.8,1229.9 1464.4,1232.2 1477.0,1228.9 1489.7,1228.3 1502.3,1230.3 1515.0,1234.6 1527.6,1235.6 1540.2,1236.9 1552.9,1239.5 1565.5,1237.8 1578.2,1235.6 1590.8,1237.8 1603.4,1239.5 1616.1,1235.6 1628.7,1238.6 1641.4,1236.9 1654.0,1230.3 1666.6,1231.6 1679.3,1232.0 1691.9,1234.9 1704.6,1231.6 1717.2,1230.9 1729.8,1230.9 1742.5,1233.6 1755.1,1228.3 1767.8,1230.3 1780.4,1234.9 1793.0,1230.3 1805.7,1230.7 1818.3,1230.7 1831.0,1230.3 1843.6,1231.6 1856.2,1234.6 1868.9,1228.3 1881.5,1229.3 1894.2,1229.6 1906.8,1230.3 1919.4,1230.3 1932.1,1228.9 1944.7,1230.7 1957.4,1231.6 1970.0,1228.9 1982.6,1228.3 1995.3,1228.9 2007.9,1232.2 2020.6,1227.6 2033.2,1230.9 2045.8,1232.2 2058.5,1229.9 2071.1,1229.9 2083.8,1233.6 2096.4,1234.9 2109.0,1229.3 2121.7,1228.3 2134.3,1228.0 2147.0,1227.6 2159.6,1227.6 2172.2,1227.6" fill="none" stroke="#ff0000" stroke-width="2.6" stroke-linejoin="miter" stroke-miterlimit="8" stroke-linecap="butt"/>
<polyline points="238.3,1280.3 251.0,1294.3 263.6,1290.9 276.2,1278.4 288.9,1278.4 301.5,1291.9 314.2,1329.1 326.8,1326.4 339.4,1288.6 352.1,1301.2 364.7,1317.1 377.4,1274.7 390.0,1307.9 402.6,1288.6 415.3,1294.3 427.9,1281.3 440.6,1272.7 453.2,1285.6 465.8,1285.3 478.5,1293.3 491.1,1276.3 503.8,1275.8 516.4,1278.0 529.0,1278.7 541.7,1280.9 554.3,1278.7 567.0,1276.0 579.6,1306.5 592.2,1306.3 604.9,1284.0 617.5,1291.3 630.2,1289.9 642.8,1286.6 655.4,1293.9 668.1,1280.0 680.7,1293.3 693.4,1277.3 706.0,1263.1 718.6,1266.7 731.3,1322.4 743.9,1276.0 756.6,1295.9 769.2,1309.2 781.8,1305.2 794.5,1283.3 807.1,1284.6 819.8,1286.0 832.4,1266.1 845.0,1293.3 857.7,1309.8 870.3,1342.3 883.0,1321.1 895.6,1313.8 908.2,1291.3 920.9,1305.2 933.5,1353.0 946.2,1263.4 958.8,1266.1 971.4,1280.0 984.1,1274.7 996.7,1268.7 1009.4,1274.0 1022.0,1279.3 1034.6,1291.9 1047.3,1288.6 1059.9,1333.7 1072.6,1330.4 1085.2,1286.0 1097.8,1268.7 1110.5,1286.0 1123.1,1333.1 1135.8,1344.3 1148.4,1317.1 1161.0,1330.4 1173.7,1284.0 1186.3,1271.4 1199.0,1290.6 1211.6,1321.1 1224.2,1325.8 1236.9,1289.3 1249.5,1295.3 1262.2,1293.9 1274.8,1315.2 1287.4,1309.8 1300.1,1293.3 1312.7,1274.7 1325.4,1266.1 1338.0,1277.3 1350.6,1276.0 1363.3,1276.0 1375.9,1305.9 1388.6,1313.8 1401.2,1279.3 1413.8,1276.0 1426.5,1293.3 1439.1,1296.6 1451.8,1268.1 1464.4,1288.6 1477.0,1262.8 1489.7,1258.1 1502.3,1266.7 1515.0,1299.2 1527.6,1303.9 1540.2,1313.2 1552.9,1324.4 1565.5,1324.4 1578.2,1335.1 1590.8,1357.6 1603.4,1353.0 1616.1,1320.5 1628.7,1341.7 1641.4,1333.1 1654.0,1268.7 1666.6,1295.9 1679.3,1294.6 1691.9,1314.5 1704.6,1276.7 1717.2,1276.0 1729.8,1284.6 1742.5,1313.8 1755.1,1261.4 1767.8,1276.0 1780.4,1299.9 1793.0,1272.0 1805.7,1286.0 1818.3,1281.3 1831.0,1276.7 1843.6,1295.9 1856.2,1316.5 1868.9,1259.4 1881.5,1263.4 1894.2,1263.4 1906.8,1278.7 1919.4,1267.4 1932.1,1258.1 1944.7,1280.7 1957.4,1280.7 1970.0,1260.8 1982.6,1252.8 1995.3,1258.8 2007.9,1290.6 2020.6,1252.8 2033.2,1288.6 2045.8,1297.9 2058.5,1270.1 2071.1,1285.3 2083.8,1303.2 2096.4,1306.5 2109.0,1272.7 2121.7,1272.0 2134.3,1260.8 2147.0,1260.8 2159.6,1250.8 2172.2,1272.7" fill="none" stroke="#00ff00" stroke-width="2.6" stroke-linejoin="miter" stroke-miterlimit="8" stroke-linecap="butt"/>
<polyline points="491.1,1242.2 503.8,1243.5 516.4,1244.8 529.0,1244.8 541.7,1245.2 554.3,1244.8 567.0,1245.8 579.6,1250.8 592.2,1265.4 604.9,1247.5 617.5,1250.6" fill="none" stroke="#8f8f1c" stroke-width="2.6" stroke-linejoin="miter" stroke-miterlimit="8" stroke-linecap="butt"/>
<polyline points="642.8,1250.8 655.4,1248.2 668.1,1248.2 680.7,1252.1 693.4,1250.6 706.0,1249.5 718.6,1250.6 731.3,1259.4 743.9,1252.8 756.6,1254.1 769.2,1256.1 781.8,1255.5 794.5,1252.8 807.1,1252.8 819.8,1254.5 832.4,1251.1" fill="none" stroke="#8f8f1c" stroke-width="2.6" stroke-linejoin="miter" stroke-miterlimit="8" stroke-linecap="butt"/>
<polyline points="946.2,1240.2 958.8,1240.9 971.4,1243.5 984.1,1242.9 996.7,1242.2 1009.4,1242.2 1022.0,1242.9 1034.6,1244.8 1047.3,1244.8 1059.9,1284.0 1072.6,1251.5 1085.2,1244.2 1097.8,1241.3 1110.5,1243.5 1123.1,1253.5 1135.8,1254.8 1148.4,1248.2 1161.0,1251.1 1173.7,1242.9 1186.3,1240.9 1199.0,1243.5 1211.6,1256.1 1224.2,1254.8 1236.9,1243.5 1249.5,1246.2 1262.2,1243.5 1274.8,1254.8 1287.4,1246.2 1300.1,1244.2 1312.7,1241.5 1325.4,1240.2 1338.0,1241.5 1350.6,1241.3 1363.3,1241.3 1375.9,1246.2 1388.6,1274.7 1401.2,1242.9 1413.8,1241.5 1426.5,1244.4 1439.1,1242.9 1451.8,1238.9 1464.4,1238.6 1477.0,1236.2 1489.7,1235.6 1502.3,1236.9 1515.0,1241.5 1527.6,1240.9 1540.2,1241.5 1552.9,1244.2 1565.5,1244.8 1578.2,1246.2 1590.8,1262.1 1603.4,1260.1 1616.1,1244.8 1628.7,1247.5 1641.4,1245.5 1654.0,1236.2 1666.6,1236.9 1679.3,1237.3 1691.9,1247.5 1704.6,1236.9 1717.2,1236.2 1729.8,1236.9 1742.5,1256.8 1755.1,1234.9 1767.8,1236.2 1780.4,1239.5 1793.0,1234.9 1805.7,1240.9 1818.3,1250.2 1831.0,1238.2 1843.6,1246.2 1856.2,1264.1 1868.9,1233.6 1881.5,1234.9 1894.2,1233.6 1906.8,1234.9 1919.4,1234.6 1932.1,1233.6 1944.7,1238.9 1957.4,1236.9 1970.0,1233.6 1982.6,1231.6 1995.3,1232.0 2007.9,1236.2 2020.6,1230.3 2033.2,1234.9 2045.8,1246.8 2058.5,1238.9 2071.1,1276.0 2083.8,1269.4 2096.4,1248.2 2109.0,1245.5 2121.7,1267.4 2134.3,1246.8 2147.0,1231.6 2159.6,1231.6 2172.2,1231.6" fill="none" stroke="#8f8f1c" stroke-width="2.6" stroke-linejoin="miter" stroke-miterlimit="8" stroke-linecap="butt"/>
<polyline points="491.1,1291.3 503.8,1286.0 516.4,1287.7 529.0,1289.9 541.7,1293.9 554.3,1291.9 567.0,1291.3 579.6,1319.8 592.2,1360.3 604.9,1301.9 617.5,1307.2" fill="none" stroke="#1c8d90" stroke-width="2.6" stroke-linejoin="miter" stroke-miterlimit="8" stroke-linecap="butt"/>
<polyline points="668.1,1301.2 680.7,1313.8 693.4,1302.6 706.0,1291.3 718.6,1293.9 731.3,1345.0 743.9,1303.2 756.6,1318.5 769.2,1335.1" fill="none" stroke="#1c8d90" stroke-width="2.6" stroke-linejoin="miter" stroke-miterlimit="8" stroke-linecap="butt"/>
<polyline points="794.5,1314.5 807.1,1309.2 819.8,1313.2 832.4,1297.2 845.0,1331.1 857.7,1392.8 870.3,1366.2 883.0,1341.0 895.6,1344.3 908.2,1317.1 920.9,1331.1" fill="none" stroke="#1c8d90" stroke-width="2.6" stroke-linejoin="miter" stroke-miterlimit="8" stroke-linecap="butt"/>
<polyline points="946.2,1278.7 958.8,1280.7 971.4,1302.6 984.1,1289.9 996.7,1282.7 1009.4,1287.3 1022.0,1290.6 1034.6,1302.6 1047.3,1303.2 1059.9,1392.8 1072.6,1338.4 1085.2,1294.6 1097.8,1284.6 1110.5,1297.2 1123.1,1349.0 1135.8,1364.2 1148.4,1329.7 1161.0,1341.0 1173.7,1298.6 1186.3,1287.3 1199.0,1303.2 1211.6,1359.6 1224.2,1359.6 1236.9,1303.9 1249.5,1311.8 1262.2,1306.5 1274.8,1353.6 1287.4,1317.1 1300.1,1305.2 1312.7,1290.6 1325.4,1284.0 1338.0,1293.9 1350.6,1291.9 1363.3,1292.6 1375.9,1319.8 1388.6,1372.2 1401.2,1296.6 1413.8,1294.6 1426.5,1309.8 1439.1,1315.8 1451.8,1284.0 1464.4,1293.3 1477.0,1272.0 1489.7,1269.4 1502.3,1274.7 1515.0,1302.6 1527.6,1307.2 1540.2,1316.5 1552.9,1329.1 1565.5,1329.3 1578.2,1343.0 1590.8,1404.0 1603.4,1400.7 1616.1,1327.8 1628.7,1344.3 1641.4,1347.7 1654.0,1282.0 1666.6,1306.5 1679.3,1305.2 1691.9,1355.6 1704.6,1289.3 1717.2,1287.3 1729.8,1294.6 1742.5,1378.8 1755.1,1278.0 1767.8,1290.6 1780.4,1309.8 1793.0,1287.3 1805.7,1323.8 1818.3,1334.4 1831.0,1303.9 1843.6,1358.9 1856.2,1376.8 1868.9,1272.0 1881.5,1284.6 1894.2,1269.4 1906.8,1287.3 1919.4,1274.0 1932.1,1266.1 1944.7,1299.2 1957.4,1285.3 1970.0,1269.4 1982.6,1264.7 1995.3,1268.1 2007.9,1293.3 2020.6,1263.4 2033.2,1293.9 2045.8,1325.8 2058.5,1314.5 2071.1,1396.7 2083.8,1374.2 2096.4,1347.7 2109.0,1358.9 2121.7,1382.1 2134.3,1326.4 2147.0,1289.3 2159.6,1294.6 2172.2,1286.6" fill="none" stroke="#1c8d90" stroke-width="2.6" stroke-linejoin="miter" stroke-miterlimit="8" stroke-linecap="butt"/>
<line x1="200.40" y1="1224.95" x2="2172.00" y2="1224.95" stroke="#000" stroke-width="2.2" stroke-linecap="butt" stroke-dasharray="13 8.5" stroke-dashoffset="0"/>
<line x1="1552.88" y1="1444.50" x2="1552.88" y2="1079.20" stroke="#000" stroke-width="2.6" stroke-dasharray="13.2 15.37" stroke-dashoffset="27.8"/>
<line x1="1641.36" y1="1444.50" x2="1641.36" y2="1079.20" stroke="#000" stroke-width="5.0" stroke-dasharray="13.2 15.37" stroke-dashoffset="27.8"/>
<line x1="200.40" y1="1077.60" x2="200.40" y2="1446.10" stroke="#6a6a6a" stroke-width="4.2" stroke-linecap="butt"/>
<line x1="2172.00" y1="1077.60" x2="2172.00" y2="1446.10" stroke="#686868" stroke-width="4.2" stroke-linecap="butt"/>
<line x1="198.30" y1="1079.20" x2="2174.10" y2="1079.20" stroke="#3c3c3c" stroke-width="3.2" stroke-linecap="butt"/>
<line x1="198.30" y1="1444.50" x2="2174.10" y2="1444.50" stroke="#3c3c3c" stroke-width="3.2" stroke-linecap="butt"/>
<line x1="832.40" y1="1444.50" x2="832.40" y2="1423.30" stroke="#3a3a3a" stroke-width="2.8" stroke-linecap="butt"/>
<line x1="832.40" y1="1079.20" x2="832.40" y2="1100.40" stroke="#3a3a3a" stroke-width="2.8" stroke-linecap="butt"/>
<line x1="1464.40" y1="1444.50" x2="1464.40" y2="1423.30" stroke="#3a3a3a" stroke-width="2.8" stroke-linecap="butt"/>
<line x1="1464.40" y1="1079.20" x2="1464.40" y2="1100.40" stroke="#3a3a3a" stroke-width="2.8" stroke-linecap="butt"/>
<line x1="2096.40" y1="1444.50" x2="2096.40" y2="1423.30" stroke="#3a3a3a" stroke-width="2.8" stroke-linecap="butt"/>
<line x1="2096.40" y1="1079.20" x2="2096.40" y2="1100.40" stroke="#3a3a3a" stroke-width="2.8" stroke-linecap="butt"/>
<line x1="200.40" y1="1371.55" x2="220.40" y2="1371.55" stroke="#3a3a3a" stroke-width="2.8" stroke-linecap="butt"/>
<line x1="2172.00" y1="1371.55" x2="2152.00" y2="1371.55" stroke="#3a3a3a" stroke-width="2.8" stroke-linecap="butt"/>
<line x1="200.40" y1="1224.95" x2="220.40" y2="1224.95" stroke="#3a3a3a" stroke-width="2.8" stroke-linecap="butt"/>
<line x1="2172.00" y1="1224.95" x2="2152.00" y2="1224.95" stroke="#3a3a3a" stroke-width="2.8" stroke-linecap="butt"/>
<rect x="214.60" y="1112.40" width="1923.00" height="81.20" fill="#fefefe" stroke="#2a2a2a" stroke-width="2.6"/>
<line x1="236.50" y1="1152.00" x2="355.50" y2="1152.00" stroke="#ff3b3b" stroke-width="4.0" stroke-linecap="butt"/>
<line x1="700.00" y1="1152.00" x2="820.00" y2="1152.00" stroke="#3bff3b" stroke-width="4.0" stroke-linecap="butt"/>
<line x1="1160.50" y1="1152.00" x2="1280.00" y2="1152.00" stroke="#8f8f1c" stroke-width="4.0" stroke-linecap="butt"/>
<line x1="1654.00" y1="1152.00" x2="1774.20" y2="1152.00" stroke="#1c8d90" stroke-width="4.0" stroke-linecap="butt"/>
<text x="366.05" y="1158.80" font-size="36.3" font-weight="bold" fill="#000" textLength="67.28" lengthAdjust="spacingAndGlyphs">GHI</text>
<text x="433.02" y="1176.60" font-size="27.0" font-weight="bold" fill="#000" textLength="77.26" lengthAdjust="spacingAndGlyphs">clean</text>
<text x="511.53" y="1158.80" font-size="36.3" font-weight="bold" fill="#000" textLength="12.59" lengthAdjust="spacingAndGlyphs">-</text>
<text x="524.04" y="1158.80" font-size="36.3" font-weight="bold" fill="#000" textLength="67.49" lengthAdjust="spacingAndGlyphs">GHI</text>
<text x="591.82" y="1176.60" font-size="27.0" font-weight="bold" fill="#000" textLength="77.33" lengthAdjust="spacingAndGlyphs">cimel</text>
<text x="829.65" y="1158.80" font-size="36.3" font-weight="bold" fill="#000" textLength="65.50" lengthAdjust="spacingAndGlyphs">DNI</text>
<text x="895.61" y="1176.60" font-size="27.0" font-weight="bold" fill="#000" textLength="78.30" lengthAdjust="spacingAndGlyphs">clean</text>
<text x="974.73" y="1158.80" font-size="36.3" font-weight="bold" fill="#000" textLength="12.59" lengthAdjust="spacingAndGlyphs">-</text>
<text x="987.28" y="1158.80" font-size="36.3" font-weight="bold" fill="#000" textLength="64.85" lengthAdjust="spacingAndGlyphs">DNI</text>
<text x="1053.01" y="1176.60" font-size="27.0" font-weight="bold" fill="#000" textLength="77.96" lengthAdjust="spacingAndGlyphs">cimel</text>
<text x="1291.46" y="1158.80" font-size="36.3" font-weight="bold" fill="#000" textLength="66.85" lengthAdjust="spacingAndGlyphs">GHI</text>
<text x="1358.01" y="1176.60" font-size="27.0" font-weight="bold" fill="#000" textLength="77.88" lengthAdjust="spacingAndGlyphs">clean</text>
<text x="1437.79" y="1158.80" font-size="36.3" font-weight="bold" fill="#000" textLength="12.06" lengthAdjust="spacingAndGlyphs">-</text>
<text x="1450.27" y="1158.80" font-size="36.3" font-weight="bold" fill="#000" textLength="66.22" lengthAdjust="spacingAndGlyphs">GHI</text>
<text x="1515.98" y="1176.60" font-size="27.0" font-weight="bold" fill="#000" textLength="107.08" lengthAdjust="spacingAndGlyphs">mordor</text>
<text x="1783.03" y="1158.80" font-size="36.3" font-weight="bold" fill="#000" textLength="66.15" lengthAdjust="spacingAndGlyphs">DNI</text>
<text x="1849.41" y="1176.60" font-size="27.0" font-weight="bold" fill="#000" textLength="78.30" lengthAdjust="spacingAndGlyphs">clean</text>
<text x="1928.93" y="1158.80" font-size="36.3" font-weight="bold" fill="#000" textLength="12.59" lengthAdjust="spacingAndGlyphs">-</text>
<text x="1941.05" y="1158.80" font-size="36.3" font-weight="bold" fill="#000" textLength="65.50" lengthAdjust="spacingAndGlyphs">DNI</text>
<text x="2005.98" y="1176.60" font-size="27.0" font-weight="bold" fill="#000" textLength="107.08" lengthAdjust="spacingAndGlyphs">mordor</text>
<polyline points="238.3,1917.8 251.0,1903.8 263.6,1912.4 276.2,1922.4 288.9,1921.1 301.5,1911.8 314.2,1889.2 326.8,1889.9 339.4,1916.4 352.1,1903.8 364.7,1891.2 377.4,1925.7 390.0,1897.2 402.6,1911.1 415.3,1907.1 427.9,1915.8 440.6,1923.7 453.2,1917.1 465.8,1917.1 478.5,1909.1 491.1,1919.7 503.8,1920.4 516.4,1919.7 529.0,1920.0 541.7,1917.1 554.3,1919.7 567.0,1921.1 579.6,1893.2 592.2,1898.5 604.9,1919.7 617.5,1913.1 630.2,1915.1 642.8,1920.1 655.4,1917.1 668.1,1921.1 680.7,1909.8 693.4,1920.4 706.0,1932.3 718.6,1930.4 731.3,1889.9 743.9,1922.4 756.6,1904.5 769.2,1896.5 781.8,1898.5 794.5,1916.4 807.1,1914.4 819.8,1915.1 832.4,1931.0 845.0,1908.5 857.7,1895.9 870.3,1856.7 883.0,1878.6 895.6,1886.6 908.2,1909.8 920.9,1903.2 933.5,1872.0 946.2,1932.3 958.8,1929.0 971.4,1917.8 984.1,1922.4 996.7,1927.0 1009.4,1923.7 1022.0,1919.1 1034.6,1907.1 1047.3,1909.1 1059.9,1859.4 1072.6,1865.4 1085.2,1911.8 1097.8,1925.1 1110.5,1909.8 1123.1,1864.7 1135.8,1852.8 1148.4,1879.3 1161.0,1865.4 1173.7,1919.1 1186.3,1926.4 1199.0,1911.8 1211.6,1875.3 1224.2,1871.3 1236.9,1908.5 1249.5,1902.5 1262.2,1904.5 1274.8,1879.9 1287.4,1889.9 1300.1,1907.1 1312.7,1920.4 1325.4,1927.7 1338.0,1919.1 1350.6,1920.1 1363.3,1919.7 1375.9,1889.2 1388.6,1883.3 1401.2,1916.4 1413.8,1919.7 1426.5,1907.1 1439.1,1909.8 1451.8,1926.4 1464.4,1910.5 1477.0,1931.0 1489.7,1935.0 1502.3,1928.4 1515.0,1901.8 1527.6,1899.8 1540.2,1897.9 1552.9,1886.6 1565.5,1877.3 1578.2,1852.8 1590.8,1816.9 1603.4,1821.6 1616.1,1872.7 1628.7,1845.5 1641.4,1869.3 1654.0,1928.4 1666.6,1907.1 1679.3,1903.8 1691.9,1884.6 1704.6,1921.1 1717.2,1918.1 1729.8,1909.1 1742.5,1872.7 1755.1,1931.7 1767.8,1920.4 1780.4,1905.2 1793.0,1922.4 1805.7,1906.5 1818.3,1910.5 1831.0,1917.1 1843.6,1907.1 1856.2,1882.6 1868.9,1934.3 1881.5,1927.7 1894.2,1927.0 1906.8,1910.5 1919.4,1926.4 1932.1,1932.3 1944.7,1913.1 1957.4,1914.4 1970.0,1931.7 1982.6,1937.7 1995.3,1934.3 2007.9,1913.1 2020.6,1937.7 2033.2,1902.5 2045.8,1892.6 2058.5,1919.7 2071.1,1910.5 2083.8,1894.5 2096.4,1894.5 2109.0,1922.4 2121.7,1922.4 2134.3,1932.3 2147.0,1931.0 2159.6,1937.7 2172.2,1919.7" fill="none" stroke="#0000ff" stroke-width="2.6" stroke-linejoin="miter" stroke-miterlimit="8" stroke-linecap="butt"/>
<polyline points="238.3,1899.2 251.0,1878.6 263.6,1892.6 276.2,1906.5 288.9,1905.2 301.5,1892.6 314.2,1856.7 326.8,1858.1 339.4,1899.2 352.1,1879.3 364.7,1860.1 377.4,1913.8 390.0,1868.0 402.6,1889.9 415.3,1883.9 427.9,1896.5 440.6,1908.5 453.2,1897.9 465.8,1899.2 478.5,1885.9 491.1,1901.8 503.8,1904.5 516.4,1902.1 529.0,1902.5 541.7,1899.2 554.3,1901.8 567.0,1904.5 579.6,1862.0 592.2,1872.7 604.9,1903.8 617.5,1892.6 630.2,1895.9 642.8,1902.9 655.4,1897.9 668.1,1904.5 680.7,1887.2 693.4,1903.4 706.0,1919.7 718.6,1917.1 731.3,1854.1 743.9,1905.8 756.6,1877.3 769.2,1865.4 781.8,1870.0 794.5,1897.2 807.1,1893.9 819.8,1894.5 832.4,1919.1 845.0,1884.6 857.7,1865.4 870.3,1803.7 883.0,1839.5 895.6,1851.4 908.2,1886.6 920.9,1875.3 933.5,1824.9 946.2,1920.4 958.8,1915.1 971.4,1897.2 984.1,1904.5 996.7,1911.1 1009.4,1906.5 1022.0,1899.2 1034.6,1879.9 1047.3,1882.6 1059.9,1806.3 1072.6,1814.3 1085.2,1887.2 1097.8,1908.5 1110.5,1883.9 1123.1,1812.3 1135.8,1792.4 1148.4,1836.2 1161.0,1811.0 1173.7,1897.9 1186.3,1908.5 1199.0,1885.3 1211.6,1826.2 1224.2,1820.3 1236.9,1880.6 1249.5,1870.7 1262.2,1872.0 1274.8,1831.5 1287.4,1848.8 1300.1,1874.0 1312.7,1896.5 1325.4,1910.5 1338.0,1894.5 1350.6,1897.2 1363.3,1896.5 1375.9,1846.1 1388.6,1834.2 1401.2,1888.6 1413.8,1895.2 1426.5,1874.6 1439.1,1876.6 1451.8,1907.8 1464.4,1877.3 1477.0,1912.4 1489.7,1919.1 1502.3,1908.5 1515.0,1860.7 1527.6,1860.1 1540.2,1854.1 1552.9,1835.5 1565.5,1818.3 1578.2,1780.1 1590.8,1705.9 1603.4,1717.2 1616.1,1808.8 1628.7,1753.8 1641.4,1800.0 1654.0,1904.5 1666.6,1866.0 1679.3,1858.1 1691.9,1823.6 1704.6,1891.2 1717.2,1886.2 1729.8,1869.3 1742.5,1795.7 1755.1,1908.5 1767.8,1886.6 1780.4,1856.7 1793.0,1890.6 1805.7,1858.7 1818.3,1867.3 1831.0,1878.6 1843.6,1856.7 1856.2,1807.7 1868.9,1913.8 1881.5,1899.2 1894.2,1898.5 1906.8,1862.7 1919.4,1895.9 1932.1,1908.5 1944.7,1866.7 1957.4,1868.7 1970.0,1905.8 1982.6,1919.1 1995.3,1908.5 2007.9,1861.4 2020.6,1915.1 2033.2,1839.5 2045.8,1816.3 2058.5,1876.6 2071.1,1854.1 2083.8,1819.6 2096.4,1819.6 2109.0,1881.3 2121.7,1878.0 2134.3,1902.5 2147.0,1898.5 2159.6,1914.4 2172.2,1872.7" fill="none" stroke="#ff00ff" stroke-width="2.6" stroke-linejoin="miter" stroke-miterlimit="8" stroke-linecap="butt"/>
<line x1="1552.88" y1="1955.50" x2="1552.88" y2="1587.80" stroke="#000" stroke-width="2.6" stroke-dasharray="13.2 15.37" stroke-dashoffset="27.8"/>
<line x1="1641.36" y1="1955.50" x2="1641.36" y2="1587.80" stroke="#000" stroke-width="5.0" stroke-dasharray="13.2 15.37" stroke-dashoffset="27.8"/>
<line x1="200.40" y1="1586.20" x2="200.40" y2="1957.10" stroke="#6a6a6a" stroke-width="4.2" stroke-linecap="butt"/>
<line x1="2172.00" y1="1586.20" x2="2172.00" y2="1957.10" stroke="#686868" stroke-width="4.2" stroke-linecap="butt"/>
<line x1="198.30" y1="1587.80" x2="2174.10" y2="1587.80" stroke="#3c3c3c" stroke-width="3.2" stroke-linecap="butt"/>
<line x1="198.30" y1="1955.50" x2="2174.10" y2="1955.50" stroke="#3c3c3c" stroke-width="3.2" stroke-linecap="butt"/>
<line x1="832.40" y1="1955.50" x2="832.40" y2="1934.30" stroke="#3a3a3a" stroke-width="2.8" stroke-linecap="butt"/>
<line x1="832.40" y1="1587.80" x2="832.40" y2="1609.00" stroke="#3a3a3a" stroke-width="2.8" stroke-linecap="butt"/>
<line x1="1464.40" y1="1955.50" x2="1464.40" y2="1934.30" stroke="#3a3a3a" stroke-width="2.8" stroke-linecap="butt"/>
<line x1="1464.40" y1="1587.80" x2="1464.40" y2="1609.00" stroke="#3a3a3a" stroke-width="2.8" stroke-linecap="butt"/>
<line x1="2096.40" y1="1955.50" x2="2096.40" y2="1934.30" stroke="#3a3a3a" stroke-width="2.8" stroke-linecap="butt"/>
<line x1="2096.40" y1="1587.80" x2="2096.40" y2="1609.00" stroke="#3a3a3a" stroke-width="2.8" stroke-linecap="butt"/>
<line x1="200.40" y1="1832.90" x2="220.40" y2="1832.90" stroke="#3a3a3a" stroke-width="2.8" stroke-linecap="butt"/>
<line x1="2172.00" y1="1832.90" x2="2152.00" y2="1832.90" stroke="#3a3a3a" stroke-width="2.8" stroke-linecap="butt"/>
<line x1="200.40" y1="1709.80" x2="220.40" y2="1709.80" stroke="#3a3a3a" stroke-width="2.8" stroke-linecap="butt"/>
<line x1="2172.00" y1="1709.80" x2="2152.00" y2="1709.80" stroke="#3a3a3a" stroke-width="2.8" stroke-linecap="butt"/>
<rect x="1460.60" y="1624.40" width="677.20" height="70.00" fill="#fefefe" stroke="#2a2a2a" stroke-width="2.6"/>
<line x1="1480.00" y1="1659.00" x2="1594.50" y2="1659.00" stroke="#0000ff" stroke-width="2.6" stroke-linecap="butt"/>
<line x1="1710.00" y1="1659.00" x2="1823.20" y2="1659.00" stroke="#ff00ff" stroke-width="2.6" stroke-linecap="butt"/>
<text x="1603.39" y="1674.80" font-size="39.5" font-weight="bold" fill="#000" textLength="89.71" lengthAdjust="spacingAndGlyphs">AOD</text>
<text x="1833.59" y="1674.80" font-size="39.5" font-weight="bold" fill="#000" textLength="295.01" lengthAdjust="spacingAndGlyphs">AOD*(air mass)</text>
<text x="159.18" y="443.70" font-size="46.0" font-weight="bold" fill="#262626" textLength="24.43" lengthAdjust="spacingAndGlyphs">0</text>
<text x="134.75" y="338.80" font-size="46.0" font-weight="bold" fill="#262626" textLength="48.86" lengthAdjust="spacingAndGlyphs">20</text>
<text x="134.75" y="233.90" font-size="46.0" font-weight="bold" fill="#262626" textLength="48.86" lengthAdjust="spacingAndGlyphs">40</text>
<text x="134.75" y="129.00" font-size="46.0" font-weight="bold" fill="#262626" textLength="48.86" lengthAdjust="spacingAndGlyphs">60</text>
<text x="164.08" y="488.90" font-size="46.0" font-weight="bold" fill="#262626" textLength="73.30" lengthAdjust="spacingAndGlyphs">150</text>
<text x="796.69" y="488.90" font-size="46.0" font-weight="bold" fill="#262626" textLength="73.30" lengthAdjust="spacingAndGlyphs">200</text>
<text x="1428.69" y="488.90" font-size="46.0" font-weight="bold" fill="#262626" textLength="73.30" lengthAdjust="spacingAndGlyphs">250</text>
<text x="2060.96" y="488.90" font-size="46.0" font-weight="bold" fill="#262626" textLength="73.30" lengthAdjust="spacingAndGlyphs">300</text>
<text x="159.18" y="953.90" font-size="46.0" font-weight="bold" fill="#262626" textLength="24.43" lengthAdjust="spacingAndGlyphs">0</text>
<text x="121.97" y="831.70" font-size="46.0" font-weight="bold" fill="#262626" textLength="61.07" lengthAdjust="spacingAndGlyphs">0.5</text>
<text x="160.20" y="709.50" font-size="46.0" font-weight="bold" fill="#262626" textLength="24.43" lengthAdjust="spacingAndGlyphs">1</text>
<text x="121.97" y="587.30" font-size="46.0" font-weight="bold" fill="#262626" textLength="61.07" lengthAdjust="spacingAndGlyphs">1.5</text>
<text x="164.08" y="998.30" font-size="46.0" font-weight="bold" fill="#262626" textLength="73.30" lengthAdjust="spacingAndGlyphs">150</text>
<text x="796.69" y="998.30" font-size="46.0" font-weight="bold" fill="#262626" textLength="73.30" lengthAdjust="spacingAndGlyphs">200</text>
<text x="1428.69" y="998.30" font-size="46.0" font-weight="bold" fill="#262626" textLength="73.30" lengthAdjust="spacingAndGlyphs">250</text>
<text x="2060.96" y="998.30" font-size="46.0" font-weight="bold" fill="#262626" textLength="73.30" lengthAdjust="spacingAndGlyphs">300</text>
<text x="120.12" y="1389.95" font-size="46.0" font-weight="bold" fill="#262626" textLength="63.49" lengthAdjust="spacingAndGlyphs">-20</text>
<text x="159.18" y="1243.35" font-size="46.0" font-weight="bold" fill="#262626" textLength="24.43" lengthAdjust="spacingAndGlyphs">0</text>
<text x="134.75" y="1096.75" font-size="46.0" font-weight="bold" fill="#262626" textLength="48.86" lengthAdjust="spacingAndGlyphs">20</text>
<text x="164.08" y="1507.10" font-size="46.0" font-weight="bold" fill="#262626" textLength="73.30" lengthAdjust="spacingAndGlyphs">150</text>
<text x="796.69" y="1507.10" font-size="46.0" font-weight="bold" fill="#262626" textLength="73.30" lengthAdjust="spacingAndGlyphs">200</text>
<text x="1428.69" y="1507.10" font-size="46.0" font-weight="bold" fill="#262626" textLength="73.30" lengthAdjust="spacingAndGlyphs">250</text>
<text x="2060.96" y="1507.10" font-size="46.0" font-weight="bold" fill="#262626" textLength="73.30" lengthAdjust="spacingAndGlyphs">300</text>
<text x="159.18" y="1974.40" font-size="46.0" font-weight="bold" fill="#262626" textLength="24.43" lengthAdjust="spacingAndGlyphs">0</text>
<text x="121.97" y="1851.30" font-size="46.0" font-weight="bold" fill="#262626" textLength="61.07" lengthAdjust="spacingAndGlyphs">0.5</text>
<text x="160.20" y="1728.20" font-size="46.0" font-weight="bold" fill="#262626" textLength="24.43" lengthAdjust="spacingAndGlyphs">1</text>
<text x="121.97" y="1605.10" font-size="46.0" font-weight="bold" fill="#262626" textLength="61.07" lengthAdjust="spacingAndGlyphs">1.5</text>
<text x="164.08" y="2018.10" font-size="46.0" font-weight="bold" fill="#262626" textLength="73.30" lengthAdjust="spacingAndGlyphs">150</text>
<text x="796.69" y="2018.10" font-size="46.0" font-weight="bold" fill="#262626" textLength="73.30" lengthAdjust="spacingAndGlyphs">200</text>
<text x="1428.69" y="2018.10" font-size="46.0" font-weight="bold" fill="#262626" textLength="73.30" lengthAdjust="spacingAndGlyphs">250</text>
<text x="2060.96" y="2018.10" font-size="46.0" font-weight="bold" fill="#262626" textLength="73.30" lengthAdjust="spacingAndGlyphs">300</text>
<text x="326.60" y="338.40" font-size="44" font-weight="bold" fill="#000" textLength="53.78" lengthAdjust="spacingAndGlyphs">(a)</text>
<text x="326.60" y="846.80" font-size="44" font-weight="bold" fill="#000" textLength="56.18" lengthAdjust="spacingAndGlyphs">(b)</text>
<text x="326.60" y="1356.80" font-size="44" font-weight="bold" fill="#000" textLength="53.78" lengthAdjust="spacingAndGlyphs">(c)</text>
<text x="326.60" y="1849.80" font-size="44" font-weight="bold" fill="#000" textLength="56.18" lengthAdjust="spacingAndGlyphs">(d)</text>
<text x="1291.03" y="376.20" font-size="33.5" font-weight="normal" fill="#000" textLength="172.85" lengthAdjust="spacingAndGlyphs">dust event</text>
<path d="M1464.5 362.4 L1518 359.4" stroke="#000" stroke-width="2.2" fill="none"/>
<path d="M1546.5 358.8 L1500 343.8 L1515.5 359.6 L1498 377.3 Z" fill="#000"/>
<text x="1291.03" y="865.00" font-size="33.5" font-weight="normal" fill="#000" textLength="172.85" lengthAdjust="spacingAndGlyphs">dust event</text>
<path d="M1464.5 851.2 L1518 848.2" stroke="#000" stroke-width="2.2" fill="none"/>
<path d="M1546.5 847.6 L1500 832.6 L1515.5 848.4 L1498 866.1 Z" fill="#000"/>
<text x="1291.03" y="1394.60" font-size="33.5" font-weight="normal" fill="#000" textLength="172.85" lengthAdjust="spacingAndGlyphs">dust event</text>
<path d="M1464.5 1380.8 L1518 1377.8" stroke="#000" stroke-width="2.2" fill="none"/>
<path d="M1546.5 1377.2 L1500 1362.2 L1515.5 1378.0 L1498 1395.7 Z" fill="#000"/>
<text x="1291.03" y="1811.60" font-size="33.5" font-weight="normal" fill="#000" textLength="172.85" lengthAdjust="spacingAndGlyphs">dust event</text>
<path d="M1464.5 1797.8 L1518 1794.8" stroke="#000" stroke-width="2.2" fill="none"/>
<path d="M1546.5 1794.2 L1500 1779.2 L1515.5 1795.0 L1498 1812.7 Z" fill="#000"/>
<text transform="translate(111.20,243.00) rotate(-90)" x="-72.22" y="0.00" font-size="48" font-weight="bold" fill="#262626" textLength="122.81" lengthAdjust="spacingAndGlyphs">MJ/m</text>
<text transform="translate(111.20,243.00) rotate(-90)" x="50.33" y="-24.00" font-size="39" font-weight="bold" fill="#262626" textLength="20.12" lengthAdjust="spacingAndGlyphs">2</text>
<text transform="translate(98.00,750.80) rotate(-90)" x="-54.26" y="0.00" font-size="48" font-weight="bold" fill="#262626" textLength="107.19" lengthAdjust="spacingAndGlyphs">ratio</text>
<text transform="translate(95.30,1262.60) rotate(-90)" x="-72.22" y="0.00" font-size="48" font-weight="bold" fill="#262626" textLength="122.81" lengthAdjust="spacingAndGlyphs">MJ/m</text>
<text transform="translate(95.30,1262.60) rotate(-90)" x="50.33" y="-24.00" font-size="39" font-weight="bold" fill="#262626" textLength="20.12" lengthAdjust="spacingAndGlyphs">2</text>
<text transform="translate(96.60,1773.20) rotate(-90)" x="-54.23" y="0.00" font-size="48" font-weight="bold" fill="#262626" textLength="109.30" lengthAdjust="spacingAndGlyphs">AOD</text>
<text x="1132.11" y="2084.20" font-size="48" font-weight="bold" fill="#262626" textLength="106.27" lengthAdjust="spacingAndGlyphs">DOY</text>
</g>
</svg>
</body>
</html>
